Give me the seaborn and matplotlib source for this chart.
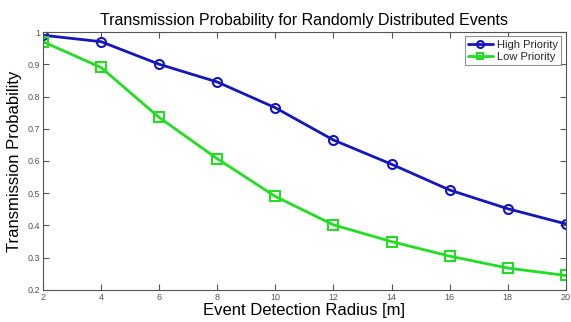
import matplotlib
matplotlib.use("Agg")
import matplotlib.pyplot as plt
import seaborn as sns
import pandas as pd

radius = [2, 4, 6, 8, 10, 12, 14, 16, 18, 20]
high_priority = [0.99, 0.97, 0.90, 0.845, 0.765, 0.665, 0.59, 0.51, 0.452, 0.405]
low_priority = [0.97, 0.89, 0.735, 0.607, 0.49, 0.402, 0.35, 0.305, 0.268, 0.245]
series_names = ["High Priority", "Low Priority"]

sns.set_style("white")
plt.rcParams['font.family'] = ['Liberation Sans', 'DejaVu Sans']

df = pd.DataFrame({
    "radius": radius * 2,
    "prob": high_priority + low_priority,
    "series": [series_names[0]] * len(radius) + [series_names[1]] * len(radius),
})

fig = plt.figure(figsize=(5.71, 3.22), dpi=100)
ax = fig.add_axes([0.0753, 0.0994, 0.9157, 0.8012])

palette = {"High Priority": "#1515c0", "Low Priority": "#22dd22"}
markers = {"High Priority": "o", "Low Priority": "s"}
sns.lineplot(data=df, x="radius", y="prob", hue="series", style="series",
             palette=palette, markers=markers, dashes=False, linewidth=2,
             markersize=6.5, markerfacecolor="none", markeredgewidth=1.5, ax=ax)
for line in ax.lines:
    line.set_markerfacecolor("none")
    line.set_markeredgecolor(line.get_color())

ax.set_xlim(2, 20)
ax.set_ylim(0.2, 1.0)
ax.set_xticks(radius)
ax.set_yticks([0.2, 0.3, 0.4, 0.5, 0.6, 0.7, 0.8, 0.9, 1.0])
ax.set_yticklabels(["0.2", "0.3", "0.4", "0.5", "0.6", "0.7", "0.8", "0.9", "1"])
ax.tick_params(direction="in", length=4, labelsize=6.5, colors="#555555",
               top=True, right=True, bottom=True, left=True, pad=2)
for s in ax.spines.values():
    s.set_color("#555555")
    s.set_linewidth(0.8)

ax.set_title("Transmission Probability for Randomly Distributed Events", fontsize=11.5,
             pad=5, color="black")
ax.set_xlabel("Event Detection Radius [m]", fontsize=12, labelpad=1, color="black")
ax.set_ylabel("Transmission Probability", fontsize=12, labelpad=4, color="black")

leg = ax.legend(loc="upper right", fontsize=8, frameon=True, fancybox=False,
                edgecolor="#777777", handlelength=2.2, borderpad=0.3,
                labelspacing=0.2, handletextpad=0.4, borderaxespad=0.4)
leg.get_frame().set_linewidth(0.8)
for h in leg.legend_handles:
    h.set_markerfacecolor("none")
    h.set_markersize(5)

fig.savefig("out.png", dpi=100, facecolor="white")
